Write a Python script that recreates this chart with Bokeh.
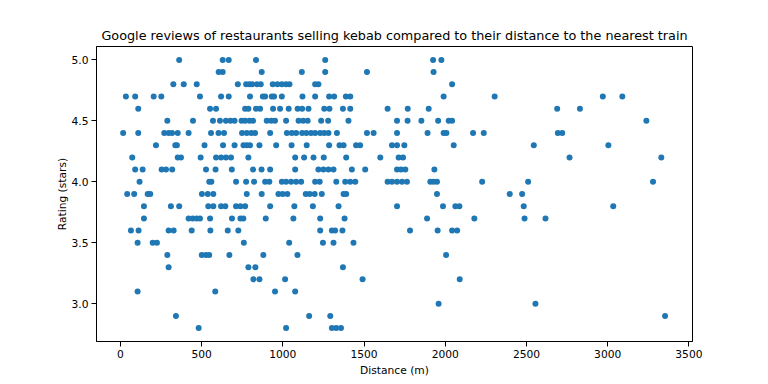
from bokeh.plotting import figure
from bokeh.models import Range1d, FixedTicker, NumeralTickFormatter, ColumnDataSource
from bokeh.embed import file_html
from bokeh.resources import INLINE

# Distances (m) of restaurants, grouped by their Google rating (stars)
d_5_0 = [362, 630, 667, 835, 1261, 1925, 1976]
d_4_9 = [605, 630, 870, 1117, 1261, 1518, 1928]
d_4_8 = [326, 390, 470, 723, 774, 794, 811, 840, 864, 938, 967, 994, 1020, 1041, 1199, 1219, 2042]
d_4_7 = [34, 91, 205, 252, 490, 620, 667, 798, 877, 891, 932, 946, 994, 1121, 1199, 1285, 1316, 1388, 1415,
         1990, 2304, 2970, 3090]
d_4_6 = [110, 552, 589, 768, 788, 835, 860, 940, 983, 1036, 1091, 1119, 1158, 1255, 1287, 1370, 1415, 1645,
         1769, 1898, 2689, 2829]
d_4_5 = [289, 447, 570, 613, 650, 678, 703, 746, 768, 795, 817, 901, 928, 952, 1020, 1097, 1125, 1153, 1236,
         1279, 1404, 1703, 1768, 1853, 1956, 2021, 2042, 3238]
d_4_4 = [17, 110, 270, 297, 318, 353, 420, 558, 604, 638, 749, 778, 806, 829, 922, 1025, 1055, 1082, 1119,
         1145, 1174, 1199, 1230, 1255, 1281, 1333, 1518, 1559, 1703, 1891, 1990, 2007, 2171, 2237, 2693, 2720]
d_4_3 = [219, 338, 348, 518, 632, 703, 758, 778, 798, 856, 959, 1054, 1147, 1285, 1349, 1374, 1451, 1476,
         1672, 1703, 1748, 2052, 2545, 3004]
d_4_2 = [73, 353, 373, 494, 589, 620, 650, 681, 788, 1076, 1131, 1189, 1252, 1390, 1600, 1713, 1740, 2765, 3330]
d_4_1 = [91, 137, 254, 281, 319, 527, 586, 686, 817, 869, 922, 1076, 1219, 1250, 1281, 1312, 1425, 1507,
         1703, 1727, 1754, 1933]
d_4_0 = [118, 547, 560, 712, 774, 823, 891, 917, 994, 1020, 1051, 1082, 1113, 1199, 1227, 1329, 1384, 1415,
         1446, 1645, 1672, 1703, 1734, 1764, 1908, 1928, 1949, 2227, 2510, 3279]
d_3_9 = [42, 85, 168, 184, 502, 538, 572, 778, 870, 973, 999, 1028, 1141, 1165, 1196, 1240, 1374, 1390,
         1949, 2397, 2473]
d_3_8 = [145, 311, 362, 541, 572, 620, 646, 712, 739, 768, 922, 1071, 1185, 1343, 1703, 1986, 2062, 2087,
         2483, 3034]
d_3_7 = [145, 420, 445, 470, 490, 552, 687, 739, 757, 895, 1065, 1230, 1380, 1888, 2179, 2488, 2617]
d_3_6 = [65, 112, 297, 328, 439, 554, 661, 726, 1230, 1302, 1322, 1367, 1783, 1953, 2042, 2073]
d_3_5 = [106, 199, 225, 760, 1039, 1247, 1312, 1435]
d_3_4 = [289, 501, 527, 547, 671, 880, 1090, 2005]
d_3_3 = [297, 788, 831, 1370]
d_3_2 = [819, 856, 1014, 1491, 2089]
d_3_1 = [106, 584, 952, 1076]
d_3_0 = [1959, 2555]
d_2_9 = [342, 1162, 1292, 3353]
d_2_8 = [482, 1020, 1302, 1329, 1358]

ratings = [5.0, 4.9, 4.8, 4.7, 4.6, 4.5, 4.4, 4.3, 4.2, 4.1, 4.0, 3.9, 3.8, 3.7, 3.6, 3.5, 3.4, 3.3, 3.2,
           3.1, 3.0, 2.9, 2.8]
groups = [d_5_0, d_4_9, d_4_8, d_4_7, d_4_6, d_4_5, d_4_4, d_4_3, d_4_2, d_4_1, d_4_0, d_3_9, d_3_8, d_3_7,
          d_3_6, d_3_5, d_3_4, d_3_3, d_3_2, d_3_1, d_3_0, d_2_9, d_2_8]

x_ticks = [0, 500, 1000, 1500, 2000, 2500, 3000, 3500]
y_ticks = [3.0, 3.5, 4.0, 4.5, 5.0]

title_text = "Google reviews of restaurants selling kebab compared to their distance to the nearest train"
x_label = "Distance (m)"
y_label = "Rating (stars)"

xs, ys = [], []
for r, g in zip(ratings, groups):
    xs.extend(g)
    ys.extend([r] * len(g))
src = ColumnDataSource(data=dict(distance=xs, rating=ys))

FONT = "DejaVu Sans"
W, H = 768, 384
p = figure(width=W, height=H, output_backend="svg", toolbar_location=None,
           x_range=Range1d(-147, 3522), y_range=Range1d(2.69, 5.11),
           min_border_left=96, min_border_right=W - 692, min_border_top=46, min_border_bottom=H - 341)
p.title.text = title_text
p.title.align = "center"
p.title.text_font = FONT
p.title.text_font_size = "12.8px"
p.title.text_font_style = "normal"
p.title.text_color = "black"
p.title.standoff = 8

p.scatter("distance", "rating", source=src, size=6, color="#1f77b4", line_color=None)

p.xgrid.visible = False
p.ygrid.visible = False
p.outline_line_color = "black"
p.outline_line_width = 1
p.outline_line_alpha = 1.0
p.background_fill_color = "white"
p.border_fill_color = "white"

for ax in (p.xaxis[0], p.yaxis[0]):
    ax.axis_line_color = "black"
    ax.major_tick_line_color = "black"
    ax.major_tick_out = 5
    ax.major_tick_in = 0
    ax.minor_tick_line_color = None
    ax.major_label_text_font = FONT
    ax.major_label_text_font_size = "10.7px"
    ax.major_label_text_color = "black"
    ax.major_label_standoff = 3
    ax.axis_label_text_font = FONT
    ax.axis_label_text_font_size = "10.7px"
    ax.axis_label_text_font_style = "normal"
    ax.axis_label_text_color = "black"

p.xaxis[0].ticker = FixedTicker(ticks=x_ticks)
p.yaxis[0].ticker = FixedTicker(ticks=y_ticks)
p.yaxis[0].formatter = NumeralTickFormatter(format="0.0")
p.xaxis[0].axis_label = x_label
p.yaxis[0].axis_label = y_label
p.xaxis[0].axis_label_standoff = 3
p.yaxis[0].axis_label_standoff = 0

open("out.html", "w").write(file_html(p, INLINE))
